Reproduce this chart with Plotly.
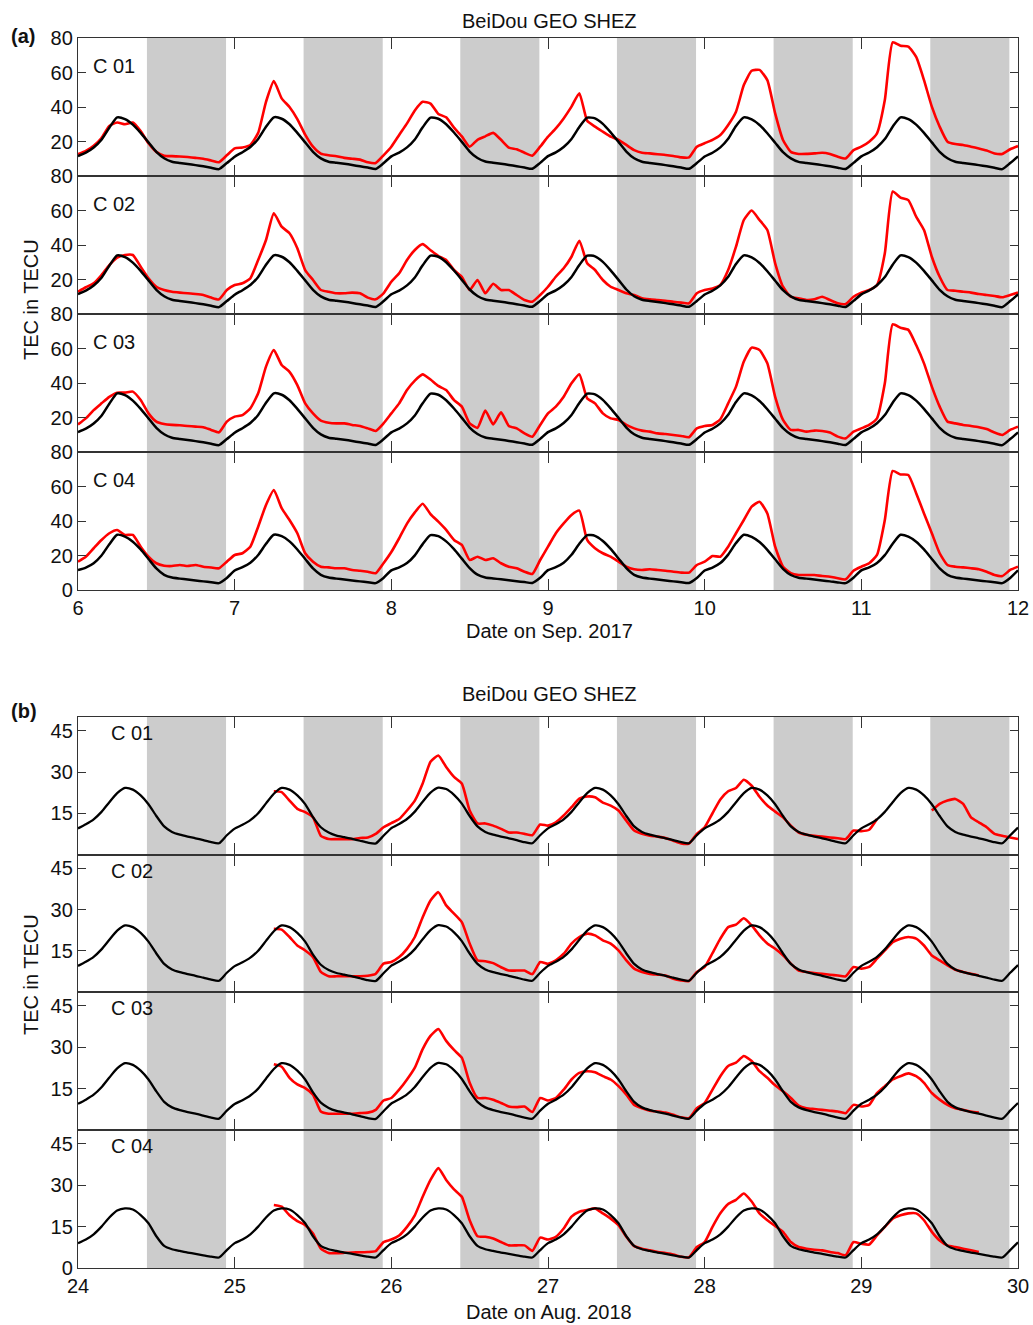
import numpy as np
import plotly.graph_objects as go

W, H = 1033, 1325

# ---------------- data: panel (a) Sep 2017 ----------------
time_a = np.round(np.linspace(6, 12, 121), 3)
night_start_a = [6.44, 7.44, 8.44, 9.44, 10.44, 11.44]
night_end_a = [6.945, 7.945, 8.945, 9.945, 10.945, 11.945]

model_a = [
    11.5, 13.5, 16.5, 21.0, 28.0, 34.0, 33.0, 29.8, 25.0, 19.5, 14.0, 10.3, 8.3, 7.6, 7.0, 6.3, 5.6, 4.8, 4.0, 7.5,
    11.2, 13.8, 16.8, 21.5, 28.5, 34.0, 33.2, 30.0, 25.0, 19.5, 14.0, 10.2, 8.3, 7.7, 7.1, 6.4, 5.6, 4.9, 4.1, 7.4,
    11.4, 13.6, 16.6, 21.2, 28.2, 33.8, 33.2, 30.0, 25.2, 19.8, 14.2, 10.4, 8.4, 7.7, 7.1, 6.4, 5.7, 4.9, 4.2, 7.6,
    11.5, 13.7, 16.8, 21.5, 28.4, 33.8, 33.4, 30.2, 25.3, 19.8, 14.2, 10.3, 8.3, 7.6, 7.0, 6.3, 5.6, 4.9, 4.2, 7.5,
    11.3, 13.5, 16.6, 21.6, 29.0, 34.0, 32.8, 29.6, 24.8, 19.3, 13.8, 10.2, 8.2, 7.6, 7.0, 6.3, 5.6, 4.8, 4.1, 7.6,
    11.4, 13.6, 16.7, 21.4, 28.6, 34.0, 33.0, 29.8, 25.0, 19.5, 14.0, 10.3, 8.3, 7.6, 7.0, 6.3, 5.6, 4.8, 4.0, 7.5,
    11.4]
model_a_c04 = [
    11.5, 13.0, 15.5, 20.0, 26.5, 32.0, 31.0, 28.0, 23.5, 18.0, 12.5, 8.8, 7.2, 6.6, 6.1, 5.5, 5.0, 4.5, 4.0, 7.0,
    11.3, 13.2, 15.8, 20.3, 26.8, 32.0, 31.2, 28.2, 23.5, 18.0, 12.5, 8.8, 7.2, 6.6, 6.1, 5.5, 5.0, 4.5, 4.0, 7.0,
    11.4, 13.1, 15.6, 20.1, 26.6, 31.8, 31.2, 28.2, 23.7, 18.2, 12.7, 8.9, 7.3, 6.7, 6.2, 5.6, 5.1, 4.6, 4.1, 7.1,
    11.5, 13.2, 15.8, 20.4, 26.8, 31.8, 31.4, 28.4, 23.8, 18.3, 12.7, 8.8, 7.2, 6.6, 6.1, 5.5, 5.0, 4.5, 4.1, 7.0,
    11.3, 13.0, 15.6, 20.5, 27.2, 32.0, 30.8, 27.8, 23.3, 17.8, 12.3, 8.7, 7.1, 6.6, 6.1, 5.5, 5.0, 4.4, 4.0, 7.1,
    11.4, 13.1, 15.7, 20.2, 26.8, 32.0, 31.0, 28.0, 23.5, 18.0, 12.5, 8.8, 7.2, 6.6, 6.1, 5.5, 5.0, 4.5, 4.0, 7.0,
    11.4]

red_a_c01 = [
    12.6, 14.5, 17.5, 22.0, 29.0, 31.0, 30.0, 31.0, 26.0, 19.0, 14.0, 11.8, 11.5, 11.3, 11.0, 10.5, 10.0, 9.0, 8.0, 12.0,
    16.0, 16.5, 18.0, 25.0, 43.0, 55.0, 45.0, 40.0, 33.0, 24.0, 17.0, 13.0, 12.0, 11.5, 10.5, 10.0, 9.5, 8.0, 7.5, 12.0,
    17.0, 23.8, 30.5, 38.0, 43.0, 42.0, 36.0, 34.0, 28.0, 23.0, 17.0, 21.0, 23.0, 25.0, 21.0, 16.5, 15.5, 13.5, 11.8, 17.0,
    22.8, 27.6, 33.4, 40.2, 48.0, 32.0, 28.6, 25.7, 22.8, 20.9, 18.0, 15.0, 13.5, 13.1, 12.6, 12.2, 11.6, 10.8, 10.8, 17.0,
    19.0, 21.0, 23.8, 29.6, 37.3, 52.7, 61.0, 61.5, 55.6, 36.3, 20.9, 14.0, 12.8, 12.8, 13.1, 13.5, 12.8, 11.2, 10.2, 15.0,
    17.0, 19.9, 24.7, 44.0, 77.5, 75.5, 75.0, 69.0, 55.6, 40.2, 28.6, 19.9, 18.5, 18.0, 17.0, 16.0, 14.8, 13.1, 12.8, 15.5,
    17.4]
red_a_c02 = [
    12.9, 15.5, 17.8, 22.6, 28.4, 32.7, 34.2, 34.2, 27.4, 20.7, 15.8, 13.9, 12.9, 12.4, 12.0, 11.6, 11.0, 9.5, 8.5, 13.9,
    16.8, 17.8, 20.7, 31.3, 42.9, 58.4, 50.6, 46.8, 38.1, 25.5, 19.7, 13.9, 12.9, 12.0, 12.0, 12.4, 12.0, 9.5, 8.5, 12.0,
    18.7, 23.6, 31.3, 37.1, 40.5, 37.0, 33.6, 31.3, 25.5, 21.6, 13.9, 19.7, 12.0, 17.5, 13.9, 13.9, 11.0, 8.1, 7.1, 11.0,
    15.8, 21.6, 26.5, 33.2, 42.5, 29.4, 25.5, 19.7, 15.8, 13.9, 12.0, 11.0, 9.1, 8.5, 8.1, 7.7, 7.1, 6.6, 6.2, 12.0,
    13.9, 14.8, 16.8, 25.5, 39.0, 54.5, 60.0, 54.5, 48.7, 29.4, 15.8, 10.0, 9.1, 8.1, 8.5, 10.0, 8.1, 6.2, 5.8, 10.0,
    12.4, 13.9, 16.8, 35.2, 71.0, 67.5, 66.0, 56.4, 48.7, 33.2, 21.6, 13.9, 13.5, 12.9, 12.4, 11.6, 11.0, 10.4, 9.7, 11.0,
    12.4]
red_a_c03 = [
    16.0, 19.5, 24.3, 28.2, 32.0, 34.4, 34.4, 35.0, 30.1, 22.4, 17.6, 16.2, 15.7, 15.5, 15.1, 14.7, 14.4, 12.8, 11.4, 17.6,
    20.5, 21.4, 25.3, 34.0, 49.5, 59.1, 50.4, 46.5, 38.8, 28.2, 22.4, 18.2, 17.0, 16.6, 16.6, 15.7, 15.1, 13.7, 12.2, 16.6,
    22.4, 28.2, 35.9, 41.4, 45.0, 42.0, 38.3, 35.9, 30.1, 26.3, 16.6, 14.0, 24.0, 16.0, 23.0, 15.1, 13.7, 10.8, 8.9, 15.7,
    22.4, 26.3, 32.0, 39.8, 45.0, 31.1, 28.2, 22.4, 19.5, 18.6, 15.7, 13.7, 12.4, 11.8, 10.8, 10.4, 9.9, 9.3, 8.6, 13.7,
    15.1, 15.7, 19.0, 28.2, 37.9, 52.4, 60.5, 59.1, 51.4, 32.0, 18.6, 12.8, 12.8, 11.8, 12.4, 12.2, 11.3, 8.9, 7.9, 11.8,
    13.7, 15.7, 19.5, 39.8, 74.0, 72.0, 70.8, 62.0, 51.4, 37.9, 26.3, 17.6, 16.6, 15.7, 15.1, 14.4, 13.3, 11.3, 9.9, 12.8,
    14.7]
red_a_c04 = [
    16.4, 19.3, 24.2, 29.0, 32.9, 34.8, 31.9, 31.9, 25.1, 19.3, 15.5, 14.1, 13.9, 14.5, 13.9, 14.5, 13.5, 13.0, 12.6, 16.4,
    20.3, 21.3, 25.1, 36.7, 49.3, 58.0, 47.4, 40.6, 32.9, 21.3, 16.4, 13.5, 13.1, 12.6, 12.6, 11.6, 11.2, 10.6, 9.7, 15.5,
    22.0, 30.0, 38.5, 45.0, 50.0, 44.0, 39.6, 34.8, 29.0, 26.1, 17.4, 19.3, 17.4, 18.4, 15.5, 13.5, 12.6, 10.6, 9.3, 17.4,
    25.1, 32.9, 38.6, 43.5, 46.0, 29.0, 24.2, 21.3, 19.3, 16.4, 13.5, 12.0, 11.6, 12.0, 11.6, 11.2, 10.6, 10.1, 10.1, 14.5,
    16.4, 19.7, 19.3, 25.1, 32.9, 40.6, 48.3, 51.2, 44.4, 25.1, 13.5, 9.7, 8.7, 8.7, 8.7, 8.1, 7.7, 6.8, 6.2, 11.2,
    13.5, 15.5, 20.3, 40.6, 69.0, 67.0, 66.7, 56.1, 44.4, 32.9, 21.3, 14.5, 13.5, 13.1, 12.6, 12.0, 10.6, 8.7, 8.1, 11.6,
    13.5]

# ---------------- data: panel (b) Aug 2018 ----------------
time_b = np.round(np.linspace(24, 30, 121), 3)
night_start_b = [24.44, 25.44, 26.44, 27.44, 28.44, 29.44]
night_end_b = [24.945, 25.945, 26.945, 27.945, 28.945, 29.945]

model_b = [
    9.5, 11.0, 12.8, 15.5, 19.0, 22.3, 24.2, 23.6, 21.5, 18.3, 14.0, 10.2, 8.2, 7.2, 6.5, 5.9, 5.2, 4.5, 4.1, 7.0,
    9.4, 10.8, 12.5, 15.0, 18.6, 22.1, 24.2, 23.6, 21.5, 18.3, 13.6, 9.9, 8.0, 6.9, 6.3, 5.7, 5.0, 4.3, 4.0, 6.8,
    9.6, 11.1, 12.9, 15.6, 19.2, 22.5, 24.3, 23.8, 21.7, 18.5, 14.0, 10.2, 8.2, 7.2, 6.5, 5.9, 5.2, 4.5, 4.1, 7.0,
    9.5, 11.0, 12.8, 15.5, 19.0, 22.3, 24.2, 23.6, 21.5, 18.3, 14.0, 10.2, 8.2, 7.2, 6.5, 5.9, 5.2, 4.5, 4.1, 7.0,
    9.5, 11.0, 12.8, 15.5, 19.0, 22.3, 24.2, 23.6, 21.5, 18.3, 14.0, 10.2, 8.2, 7.2, 6.5, 5.9, 5.2, 4.5, 4.1, 7.0,
    9.5, 11.0, 12.8, 15.5, 19.0, 22.3, 24.2, 23.6, 21.5, 18.3, 14.0, 10.2, 8.2, 7.2, 6.5, 5.9, 5.2, 4.5, 4.1, 7.0,
    9.8]
model_b_c04 = [
    9.0, 10.3, 12.2, 15.0, 18.3, 20.8, 21.6, 21.2, 19.2, 16.2, 11.5, 8.0, 6.8, 6.2, 5.6, 5.1, 4.6, 4.1, 3.8, 6.5,
    9.0, 10.3, 12.2, 15.0, 18.3, 20.8, 21.6, 21.2, 19.2, 16.2, 11.5, 8.0, 6.8, 6.2, 5.6, 5.1, 4.6, 4.1, 3.8, 6.5,
    9.0, 10.3, 12.2, 15.0, 18.3, 20.8, 21.6, 21.2, 19.2, 16.2, 11.5, 8.0, 6.8, 6.2, 5.6, 5.1, 4.6, 4.1, 3.8, 6.5,
    9.0, 10.3, 12.2, 15.0, 18.3, 20.8, 21.6, 21.2, 19.2, 16.2, 11.5, 8.0, 6.8, 6.2, 5.6, 5.1, 4.6, 4.1, 3.8, 6.5,
    9.0, 10.3, 12.2, 15.0, 18.3, 20.8, 21.6, 21.2, 19.2, 16.2, 11.5, 8.0, 6.8, 6.2, 5.6, 5.1, 4.6, 4.1, 3.8, 6.5,
    9.0, 10.3, 12.2, 15.0, 18.3, 20.8, 21.6, 21.2, 19.2, 16.2, 11.5, 8.0, 6.8, 6.2, 5.6, 5.1, 4.6, 4.1, 3.8, 6.5,
    9.3]

red_b_c01 = [None] * 25 + [
    23.0, 22.7, 19.6, 16.6, 15.4, 13.5, 6.8, 5.6, 5.6, 5.6, 5.6, 6.0, 6.2, 7.5, 9.9,
    11.4, 12.9, 16.0, 19.6, 25.8, 33.7, 36.0, 31.8, 28.2, 25.8, 16.0, 11.3, 11.3, 10.5, 9.3, 8.0, 8.0, 7.5, 7.0, 10.9,
    10.5, 11.7, 14.2, 17.2, 20.3, 21.1, 20.8, 18.9, 17.8, 16.0, 12.3, 8.7, 7.5, 6.8, 6.5, 6.0, 5.0, 4.0, 4.0, 7.5,
    9.9, 15.0, 20.0, 23.0, 24.2, 27.2, 25.0, 21.0, 17.8, 15.6, 13.5, 10.5, 8.0, 7.2, 6.8, 6.5, 6.2, 5.9, 5.6, 8.7,
    8.5, 9.0, 12.9, None, None, None, None, None, None, 16.0, 18.4, 19.6, 20.2, 18.4, 13.5, 11.7, 9.9, 7.5, 6.8, 6.2,
    5.6]
red_b_c02 = [None] * 25 + [
    23.0, 22.7, 20.0, 16.9, 15.1, 12.7, 7.3, 5.7, 5.7, 5.7, 5.7, 5.7, 5.9, 6.6, 10.3,
    10.9, 12.7, 15.7, 20.0, 27.2, 33.3, 36.3, 31.5, 28.5, 25.4, 17.6, 11.5, 11.2, 10.5, 9.0, 7.8, 7.8, 7.8, 6.5, 10.9,
    10.3, 11.5, 13.9, 17.6, 20.0, 21.2, 20.6, 18.8, 17.6, 15.1, 11.5, 8.5, 7.3, 6.6, 6.3, 6.0, 4.8, 4.2, 4.0, 7.3,
    9.1, 14.1, 19.4, 23.6, 24.5, 26.8, 24.2, 20.6, 17.6, 15.7, 13.3, 10.3, 7.8, 7.3, 6.9, 6.6, 6.3, 6.0, 5.7, 9.1,
    8.5, 9.1, 12.1, 15.1, 18.1, 19.4, 20.0, 19.4, 16.9, 13.3, 11.5, 9.7, 8.1, 7.3, 6.6, 6.0, None, None, None, None,
    None]
red_b_c03 = [None] * 25 + [
    23.8, 22.9, 18.9, 16.5, 15.2, 12.8, 6.7, 5.9, 5.9, 5.9, 5.9, 6.1, 6.3, 7.3, 10.7,
    11.6, 14.6, 18.3, 22.6, 29.3, 34.1, 36.6, 32.3, 29.0, 26.2, 17.1, 11.6, 11.6, 11.0, 9.8, 8.5, 8.3, 8.5, 6.5, 11.6,
    10.7, 11.6, 14.6, 18.3, 20.7, 21.3, 20.9, 19.5, 18.3, 15.9, 12.8, 9.1, 7.9, 7.0, 6.7, 6.3, 5.5, 4.6, 4.3, 7.9,
    9.8, 14.6, 19.5, 23.2, 24.4, 26.8, 25.0, 21.3, 18.9, 16.2, 14.0, 11.6, 8.8, 7.9, 7.6, 7.3, 7.0, 6.7, 6.1, 9.1,
    8.5, 9.1, 13.4, 15.9, 18.3, 19.5, 20.5, 19.5, 17.1, 13.4, 11.0, 9.1, 7.9, 7.3, 6.7, 6.3, None, None, None, None,
    None]
red_b_c04 = [None] * 25 + [
    22.8, 22.2, 19.1, 17.0, 15.5, 12.5, 7.0, 5.4, 5.4, 5.5, 5.6, 5.7, 5.8, 6.1, 9.4,
    10.3, 11.8, 14.9, 19.1, 25.8, 31.9, 36.2, 31.9, 28.5, 25.8, 17.3, 11.5, 11.3, 10.7, 9.4, 8.2, 8.2, 8.2, 6.2, 11.0,
    10.3, 11.3, 14.3, 18.6, 20.4, 21.0, 21.6, 19.8, 17.9, 15.5, 11.3, 7.9, 7.0, 6.4, 5.8, 5.4, 4.9, 4.1, 3.9, 7.6,
    9.4, 14.9, 19.8, 23.2, 24.7, 27.0, 24.1, 19.8, 17.3, 15.2, 13.1, 9.4, 7.6, 7.0, 6.6, 6.4, 5.8, 5.4, 4.6, 9.4,
    8.8, 8.5, 11.8, 14.9, 17.9, 19.1, 19.8, 19.8, 17.3, 13.1, 10.0, 8.2, 7.6, 7.0, 6.4, 5.8, None, None, None, None,
    None]

sat_labels = ["C 01", "C 02", "C 03", "C 04"]
yticks_a = [20, 40, 60, 80]
yticks_a_bottom = [0, 20, 40, 60, 80]
yticks_b = [15, 30, 45]
yticks_b_bottom = [0, 15, 30, 45]
xticks_a = [6, 7, 8, 9, 10, 11, 12]
xticks_b = [24, 25, 26, 27, 28, 29, 30]

# ---------------- figure ----------------
FONT = "Liberation Sans, Arial, Helvetica, sans-serif"
AX = "#333333"
xdom = [78 / W, 1018 / W]
rows_a = [(38, 176), (176, 314), (314, 452), (452, 590)]
rows_b = [(717, 854.5), (854.5, 992), (992, 1130), (1130, 1268)]

panels = [
    dict(t=time_a, reds=[red_a_c01, red_a_c02, red_a_c03, red_a_c04],
         models=[model_a, model_a, model_a, model_a_c04], rows=rows_a,
         xr=[6, 12], xt=xticks_a, yr=[0, 80], yt=yticks_a, ytb=yticks_a_bottom,
         ns=night_start_a, ne=night_end_a, lab_x=91, lab_dy=28, bw=2.5),
    dict(t=time_b, reds=[red_b_c01, red_b_c02, red_b_c03, red_b_c04],
         models=[model_b, model_b, model_b, model_b_c04], rows=rows_b,
         xr=[24, 30], xt=xticks_b, yr=[0, 50], yt=yticks_b, ytb=yticks_b_bottom,
         ns=night_start_b, ne=night_end_b, lab_x=109, lab_dy=16, bw=2.3),
]

fig = go.Figure()
layout = {}
shapes = []
annotations = []
idx = 0
for p in panels:
    for k in range(4):
        idx += 1
        xa = "x" if idx == 1 else f"x{idx}"
        ya = "y" if idx == 1 else f"y{idx}"
        top, bot = p["rows"][k]
        fig.add_trace(go.Scatter(x=p["t"], y=p["reds"][k], mode="lines",
                                 line=dict(color="#ff0000", width=2.6, shape="spline", smoothing=0.5),
                                 connectgaps=False, showlegend=False,
                                 xaxis=xa, yaxis=ya))
        fig.add_trace(go.Scatter(x=p["t"], y=p["models"][k], mode="lines",
                                 line=dict(color="#000000", width=p["bw"], shape="spline", smoothing=0.6),
                                 showlegend=False, xaxis=xa, yaxis=ya))
        last = (k == 3)
        layout["xaxis" if idx == 1 else f"xaxis{idx}"] = dict(
            domain=xdom, anchor=ya, range=p["xr"], tickvals=p["xt"],
            ticks="inside", ticklen=11, tickwidth=1.4, tickcolor=AX,
            showline=True, linecolor=AX, linewidth=1.4, mirror="ticks",
            showgrid=False, zeroline=False, showticklabels=last, automargin=False,
            tickfont=dict(family=FONT, size=20, color="#111111"))
        layout["yaxis" if idx == 1 else f"yaxis{idx}"] = dict(
            domain=[1 - bot / H, 1 - top / H], anchor=xa, range=p["yr"],
            tickvals=p["ytb"] if last else p["yt"],
            ticks="inside", ticklen=8, tickwidth=1.4, tickcolor=AX,
            showline=True, linecolor=AX, linewidth=1.4, mirror="ticks",
            showgrid=False, zeroline=False, automargin=False,
            tickfont=dict(family=FONT, size=20, color="#111111"))
        for a, b in zip(p["ns"], p["ne"]):
            shapes.append(dict(type="rect", xref=xa, yref=f"{ya} domain",
                               x0=a, x1=b, y0=0, y1=1, layer="below",
                               fillcolor="#cccccc", line=dict(width=0)))
        annotations.append(dict(text=sat_labels[k], x=p["lab_x"] / W, y=1 - (top + p["lab_dy"]) / H,
                                xref="paper", yref="paper", xanchor="left", yanchor="middle",
                                showarrow=False, font=dict(family=FONT, size=20, color="#111111")))


def txt(text, x, y, size=20, angle=0, xanchor="center", bold=False):
    annotations.append(dict(text=f"<b>{text}</b>" if bold else text, x=x / W, y=1 - y / H,
                            xref="paper", yref="paper", xanchor=xanchor, yanchor="middle",
                            textangle=angle, showarrow=False,
                            font=dict(family=FONT, size=size, color="#111111")))


txt("BeiDou GEO SHEZ", 549, 21)
txt("BeiDou GEO SHEZ", 549, 694)
txt("(a)", 9, 36, xanchor="left", bold=True)
txt("(b)", 9, 711, xanchor="left", bold=True)
txt("Date on Sep. 2017", 549, 631)
txt("Date on Aug. 2018", 549, 1312)
txt("TEC in TECU", 31, 300, angle=-90)
txt("TEC in TECU", 31, 975, angle=-90)

fig.update_layout(**layout)
fig.update_layout(template="none", width=W, height=H, autosize=False,
                  margin=dict(l=0, r=0, t=0, b=0, pad=0, autoexpand=False),
                  paper_bgcolor="white", plot_bgcolor="white",
                  shapes=shapes, annotations=annotations,
                  font=dict(family=FONT, size=20, color="#111111"))

fig.write_html("out.html")
